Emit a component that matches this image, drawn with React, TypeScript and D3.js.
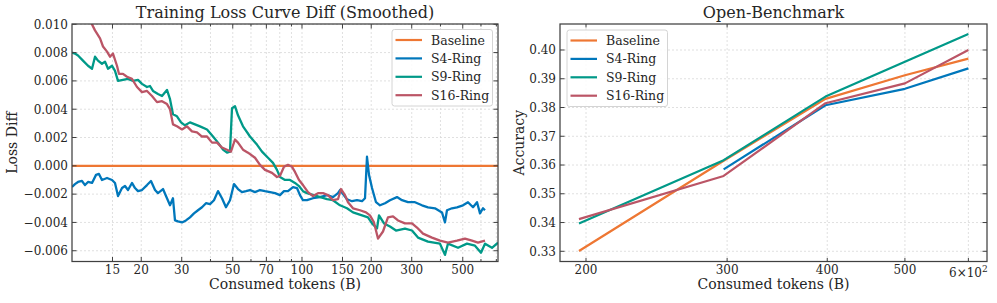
import * as d3 from 'd3';

// Left panel: smoothed loss difference vs. Baseline, [tokens (B), diff]
const SERIES_NAMES = ['Baseline', 'S4-Ring', 'S9-Ring', 'S16-Ring'];
const SERIES_COLORS = ['#EE7733', '#0077BB', '#009988', '#BB5566'];

const LOSS_BASELINE: [number, number][] = [[10, 0], [720, 0]];

const LOSS_S4: [number, number][] = [
  [10.0, -0.0015], [10.3, -0.00129], [10.62, -0.00114], [11.05, -0.00107], [11.39, -0.00136],
  [11.74, -0.00114], [12.22, -0.00121], [12.72, -0.00064], [13.1, -0.00057], [13.5, -0.001],
  [14.2, -0.00086], [14.93, -0.001], [15.38, -0.00121], [15.85, -0.00214], [16.5, -0.00157],
  [17.0, -0.00143], [17.52, -0.00171], [18.23, -0.00121], [18.79, -0.00157], [19.36, -0.00179],
  [20.15, -0.00171], [21.19, -0.00136], [22.05, -0.00107], [22.96, -0.00171], [23.65, -0.00193],
  [24.87, -0.00164], [25.88, -0.00229], [26.68, -0.00279], [27.48, -0.00229], [28.04, -0.00386],
  [28.9, -0.00393], [30.08, -0.004], [31.3, -0.00386], [32.58, -0.00364], [33.91, -0.00336],
  [35.3, -0.00314], [36.75, -0.00293], [38.24, -0.00264], [39.81, -0.00271], [41.43, -0.00243],
  [43.13, -0.00179], [44.89, -0.00229], [46.73, -0.00293], [48.64, -0.00243], [50.62, -0.00129],
  [52.69, -0.00164], [54.84, -0.00186], [57.08, -0.00179], [59.42, -0.00171], [62.47, -0.00186],
  [65.67, -0.00171], [69.05, -0.00179], [72.59, -0.00186], [76.31, -0.00193], [80.23, -0.00207],
  [83.5, -0.00179], [86.9, -0.00179], [91.4, -0.0015], [95.1, -0.00157], [98.0, -0.00207],
  [101.0, -0.00243], [105.1, -0.00243], [111.6, -0.00229], [119.7, -0.00221], [128.5, -0.00207],
  [136.4, -0.00221], [143.4, -0.00193], [146.3, -0.00171], [150.8, -0.002], [156.9, -0.00236],
  [165.0, -0.0025], [173.4, -0.00243], [182.4, -0.0025], [187.9, -0.00229], [191.7, 0.00064],
  [195.6, -0.00064], [201.6, -0.00157], [209.8, -0.00257], [218.3, -0.00279], [229.6, -0.00264],
  [241.3, -0.00243], [258.8, -0.00221], [272.2, -0.00243], [289.0, -0.00257], [309.9, -0.00257],
  [332.4, -0.00279], [353.0, -0.00293], [378.6, -0.003], [406.1, -0.00329], [418.5, -0.004],
  [427.0, -0.00314], [448.9, -0.003], [472.0, -0.00293], [501.2, -0.00279], [526.9, -0.00257],
  [554.1, -0.00293], [576.9, -0.00257], [594.2, -0.00336], [612.3, -0.003], [624.7, -0.00314],
];

const LOSS_S9: [number, number][] = [
  [10.0, 0.008], [10.3, 0.00793], [10.62, 0.00779], [11.16, 0.00743], [11.74, 0.00707],
  [12.22, 0.00686], [12.59, 0.00771], [12.97, 0.00743], [13.5, 0.00721], [13.92, 0.00736],
  [14.34, 0.00686], [14.93, 0.00707], [15.38, 0.00671], [15.85, 0.006], [16.66, 0.00607],
  [17.52, 0.00614], [18.42, 0.006], [19.36, 0.00607], [20.15, 0.00579], [21.19, 0.00557],
  [21.83, 0.00564], [22.5, 0.00529], [23.65, 0.00507], [24.62, 0.00493], [25.88, 0.00536],
  [26.68, 0.00471], [27.48, 0.00364], [28.6, 0.0035], [29.78, 0.00307], [30.99, 0.00286],
  [32.58, 0.00307], [34.25, 0.00293], [36.01, 0.00279], [38.64, 0.00257], [41.02, 0.00207],
  [43.13, 0.00164], [45.34, 0.00114], [47.2, 0.00093], [48.64, 0.001], [49.62, 0.00407],
  [51.13, 0.00421], [52.69, 0.00357], [55.4, 0.00279], [59.42, 0.00207], [63.7, 0.0015],
  [67.0, 0.001], [71.15, 0.00057], [74.8, 0.00021], [77.85, -0.00029], [80.23, -0.00079],
  [84.35, -0.001], [88.68, -0.001], [93.23, -0.00121], [97.05, -0.00143], [101.0, -0.00179],
  [105.1, -0.00193], [116.2, -0.00214], [128.5, -0.00236], [136.4, -0.00243], [146.3, -0.00279],
  [156.9, -0.003], [166.6, -0.00329], [182.4, -0.0035], [193.6, -0.00364], [201.6, -0.00407],
  [211.9, -0.00443], [216.2, -0.0035], [227.3, -0.00407], [241.3, -0.00429], [256.3, -0.00457],
  [280.4, -0.00443], [300.8, -0.00457], [319.4, -0.00507], [353.0, -0.00536], [398.1, -0.0055],
  [418.5, -0.00629], [431.3, -0.0055], [476.8, -0.00579], [521.6, -0.0055], [565.2, -0.00564],
  [600.1, -0.00614], [624.7, -0.0055], [670.0, -0.00579], [711.6, -0.00543],
];

const LOSS_S16: [number, number][] = [
  [10.83, 0.011], [11.5, 0.01057], [12.09, 0.01014], [12.59, 0.00957], [13.24, 0.009],
  [13.64, 0.00843], [14.2, 0.00807], [14.63, 0.00771], [15.07, 0.00793], [15.69, 0.00707],
  [16.0, 0.0065], [16.66, 0.0065], [17.34, 0.00629], [18.23, 0.00614], [19.17, 0.00557],
  [20.15, 0.00521], [21.19, 0.00529], [22.27, 0.00493], [23.42, 0.0045], [24.62, 0.00457],
  [25.88, 0.00436], [26.68, 0.004], [27.48, 0.00293], [28.6, 0.00279], [30.08, 0.00257],
  [31.62, 0.00279], [33.24, 0.00243], [34.95, 0.00236], [36.75, 0.00207], [38.64, 0.00207],
  [40.62, 0.00164], [42.7, 0.00164], [44.89, 0.00129], [47.2, 0.00114], [49.1, 0.001],
  [51.13, 0.00186], [52.69, 0.00164], [55.4, 0.00114], [58.24, 0.00093], [62.47, 0.00057],
  [65.67, 0.00007], [69.05, -0.00029], [74.07, -0.0005], [77.85, -0.00079], [80.23, -0.00071],
  [83.5, -0.00007], [86.9, 0.00007], [90.5, -0.00007], [93.23, -0.00043], [97.05, -0.001],
  [101.0, -0.00136], [106.2, -0.00186], [111.6, -0.00214], [117.4, -0.00193], [123.4, -0.00193],
  [129.7, -0.00207], [136.4, -0.00243], [143.4, -0.00236], [147.8, -0.00164], [153.8, -0.00207],
  [158.5, -0.00257], [166.6, -0.003], [178.7, -0.00314], [189.8, -0.00329], [197.5, -0.0035],
  [205.6, -0.004], [214.0, -0.00514], [225.0, -0.00464], [236.5, -0.00364], [248.7, -0.00357],
  [261.5, -0.00386], [280.4, -0.00407], [300.8, -0.00407], [316.2, -0.00436], [335.8, -0.00479],
  [367.4, -0.00507], [398.1, -0.00529], [431.3, -0.00543], [472.0, -0.00529], [511.3, -0.00514],
  [548.4, -0.00529], [582.4, -0.00543], [624.7, -0.00529],
];

const LOSS_XTICKS = [15, 20, 30, 50, 70, 100, 150, 200, 300, 500];
const LOSS_XMINOR = [40, 60, 80, 90, 400, 600, 700];
const LOSS_YTICKS = [-0.006, -0.004, -0.002, 0, 0.002, 0.004, 0.006, 0.008, 0.01];

// Right panel: Open-Benchmark accuracy
const BENCH_TOKENS = [196, 297, 398, 500, 600];
const BENCH_BASELINE = [0.3301, 0.3615, 0.383, 0.3912, 0.397];
const BENCH_S4 = [null, 0.3585, 0.3808, 0.3865, 0.3936];
const BENCH_S9 = [0.3397, 0.3617, 0.3838, 0.3959, 0.4056];
const BENCH_S16 = [0.3412, 0.3562, 0.3815, 0.3884, 0.4];
const BENCH_XTICKS = [200, 300, 400, 500, 600];
const BENCH_YTICKS = [0.33, 0.34, 0.35, 0.36, 0.37, 0.38, 0.39, 0.4];

const FONT = '"DejaVu Serif", "Liberation Serif", serif';
const SPINE = '#404040';
const GRID = '#d8d8d8';
const TXT = '#262626';

const fmtMinus = (s: string) => s.replace('-', '\u2212');

function Legend({ x, y }: { x: number; y: number }) {
  return (
    <g>
      <rect x={x} y={y} width={100.5} height={76.5} rx={2.5} fill="#fff" fillOpacity={0.85} stroke="#d4d4d4" strokeWidth={1} />
      {SERIES_NAMES.map((name, i) => {
        const cy = y + 10.5 + i * 18.4;
        return (
          <g key={name}>
            <line x1={x + 3.5} x2={x + 30} y1={cy} y2={cy} stroke={SERIES_COLORS[i]} strokeWidth={2.2} />
            <text x={x + 39} y={cy + 4.5} fontSize={12.5} fill={TXT}>{name}</text>
          </g>
        );
      })}
    </g>
  );
}

export default function App() {
  const L = { x0: 72, x1: 498, y0: 24, y1: 261.5 };
  const R = { x0: 560, x1: 987, y0: 24, y1: 261.5 };

  const lx = d3.scaleLog().domain([10, 711.6]).range([L.x0, L.x1]);
  const ly = d3.scaleLinear().domain([-0.00676, 0.01002]).range([L.y1, L.y0]);
  const rx = d3.scaleLog().domain([185.6, 633]).range([R.x0, R.x1]);
  const ry = d3.scaleLinear().domain([0.32645, 0.40904]).range([R.y1, R.y0]);

  const lossLine = d3.line<[number, number]>().x((d) => lx(d[0])).y((d) => ly(d[1]));
  const lossSeries = [LOSS_BASELINE, LOSS_S4, LOSS_S9, LOSS_S16];

  const benchLine = d3.line<number | null>()
    .defined((v) => v !== null)
    .x((_, i) => rx(BENCH_TOKENS[i]))
    .y((v) => ry(v as number));
  const benchSeries = [BENCH_BASELINE, BENCH_S4, BENCH_S9, BENCH_S16];

  const maj = 4.5;
  const mnr = 2.5;

  return (
    <svg width={997} height={303} style={{ position: 'absolute', left: 0, top: 0, background: '#fff' }} fontFamily={FONT}>
      <defs>
        <clipPath id="clipL"><rect x={L.x0} y={L.y0} width={L.x1 - L.x0} height={L.y1 - L.y0} /></clipPath>
        <clipPath id="clipR"><rect x={R.x0} y={R.y0} width={R.x1 - R.x0} height={R.y1 - R.y0} /></clipPath>
      </defs>

      {/* ---- left panel ---- */}
      <g>
        {[...LOSS_XTICKS, ...LOSS_XMINOR].map((t) => (
          <line key={'gx' + t} x1={lx(t)} x2={lx(t)} y1={L.y0} y2={L.y1} stroke={GRID} strokeWidth={0.8} strokeDasharray="2,2" />
        ))}
        {LOSS_YTICKS.map((t) => (
          <line key={'gy' + t} x1={L.x0} x2={L.x1} y1={ly(t)} y2={ly(t)} stroke={GRID} strokeWidth={0.8} strokeDasharray="2,2" />
        ))}
        <g clipPath="url(#clipL)">
          {lossSeries.map((s, i) => (
            <path key={SERIES_NAMES[i]} d={lossLine(s) || ''} fill="none" stroke={SERIES_COLORS[i]} strokeWidth={2.3} strokeLinejoin="round" />
          ))}
        </g>
        <rect x={L.x0} y={L.y0} width={L.x1 - L.x0} height={L.y1 - L.y0} fill="none" stroke={SPINE} strokeWidth={1.25} />
        {LOSS_XTICKS.map((t) => (
          <g key={'tx' + t}>
            <line x1={lx(t)} x2={lx(t)} y1={L.y1} y2={L.y1 - maj} stroke={SPINE} />
            <line x1={lx(t)} x2={lx(t)} y1={L.y0} y2={L.y0 + maj} stroke={SPINE} />
            <text x={lx(t)} y={273.5} fontSize={12} textAnchor="middle" fill={TXT}>{t}</text>
          </g>
        ))}
        {LOSS_XMINOR.map((t) => (
          <g key={'mx' + t}>
            <line x1={lx(t)} x2={lx(t)} y1={L.y1} y2={L.y1 - mnr} stroke={SPINE} />
            <line x1={lx(t)} x2={lx(t)} y1={L.y0} y2={L.y0 + mnr} stroke={SPINE} />
          </g>
        ))}
        {LOSS_YTICKS.map((t) => (
          <g key={'ty' + t}>
            <line x1={L.x0} x2={L.x0 + maj} y1={ly(t)} y2={ly(t)} stroke={SPINE} />
            <line x1={L.x1} x2={L.x1 - maj} y1={ly(t)} y2={ly(t)} stroke={SPINE} />
            <text x={L.x0 - 4} y={ly(t) + 4.3} fontSize={12} textAnchor="end" fill={TXT}>{fmtMinus(d3.format('.3f')(t))}</text>
          </g>
        ))}
        <text x={(L.x0 + L.x1) / 2} y={18.3} fontSize={16} textAnchor="middle" fill={TXT}>Training Loss Curve Diff (Smoothed)</text>
        <text x={(L.x0 + L.x1) / 2} y={289} fontSize={14} textAnchor="middle" fill={TXT}>Consumed tokens (B)</text>
        <text transform={`translate(17,${(L.y0 + L.y1) / 2}) rotate(-90)`} fontSize={14} textAnchor="middle" fill={TXT}>Loss Diff</text>
        <Legend x={392} y={29.5} />
      </g>

      {/* ---- right panel ---- */}
      <g>
        {BENCH_XTICKS.map((t) => (
          <line key={'gx' + t} x1={rx(t)} x2={rx(t)} y1={R.y0} y2={R.y1} stroke={GRID} strokeWidth={0.8} strokeDasharray="2,2" />
        ))}
        {BENCH_YTICKS.map((t) => (
          <line key={'gy' + t} x1={R.x0} x2={R.x1} y1={ry(t)} y2={ry(t)} stroke={GRID} strokeWidth={0.8} strokeDasharray="2,2" />
        ))}
        <g clipPath="url(#clipR)">
          {benchSeries.map((s, i) => (
            <path key={SERIES_NAMES[i]} d={benchLine(s) || ''} fill="none" stroke={SERIES_COLORS[i]} strokeWidth={2.2} strokeLinejoin="round" />
          ))}
        </g>
        <rect x={R.x0} y={R.y0} width={R.x1 - R.x0} height={R.y1 - R.y0} fill="none" stroke={SPINE} strokeWidth={1.25} />
        {BENCH_XTICKS.map((t) => (
          <g key={'tx' + t}>
            <line x1={rx(t)} x2={rx(t)} y1={R.y1} y2={R.y1 - mnr - 1} stroke={SPINE} />
            <line x1={rx(t)} x2={rx(t)} y1={R.y0} y2={R.y0 + mnr + 1} stroke={SPINE} />
            {t === 600 ? (
              <text x={rx(t)} y={276.5} fontSize={12} textAnchor="middle" fill={TXT}>
                6{'\u00d7'}10<tspan dy={-5} fontSize={9}>2</tspan>
              </text>
            ) : (
              <text x={rx(t)} y={273.5} fontSize={12} textAnchor="middle" fill={TXT}>{t}</text>
            )}
          </g>
        ))}
        {BENCH_YTICKS.map((t) => (
          <g key={'ty' + t}>
            <line x1={R.x0} x2={R.x0 + maj} y1={ry(t)} y2={ry(t)} stroke={SPINE} />
            <line x1={R.x1} x2={R.x1 - maj} y1={ry(t)} y2={ry(t)} stroke={SPINE} />
            <text x={R.x0 - 4} y={ry(t) + 4.3} fontSize={12} textAnchor="end" fill={TXT}>{d3.format('.2f')(t)}</text>
          </g>
        ))}
        <text x={(R.x0 + R.x1) / 2} y={18.3} fontSize={16} textAnchor="middle" fill={TXT}>Open-Benchmark</text>
        <text x={(R.x0 + R.x1) / 2} y={289} fontSize={14} textAnchor="middle" fill={TXT}>Consumed tokens (B)</text>
        <text transform={`translate(524,${(R.y0 + R.y1) / 2}) rotate(-90)`} fontSize={14} textAnchor="middle" fill={TXT}>Accuracy</text>
        <Legend x={567} y={30} />
      </g>
    </svg>
  );
}
